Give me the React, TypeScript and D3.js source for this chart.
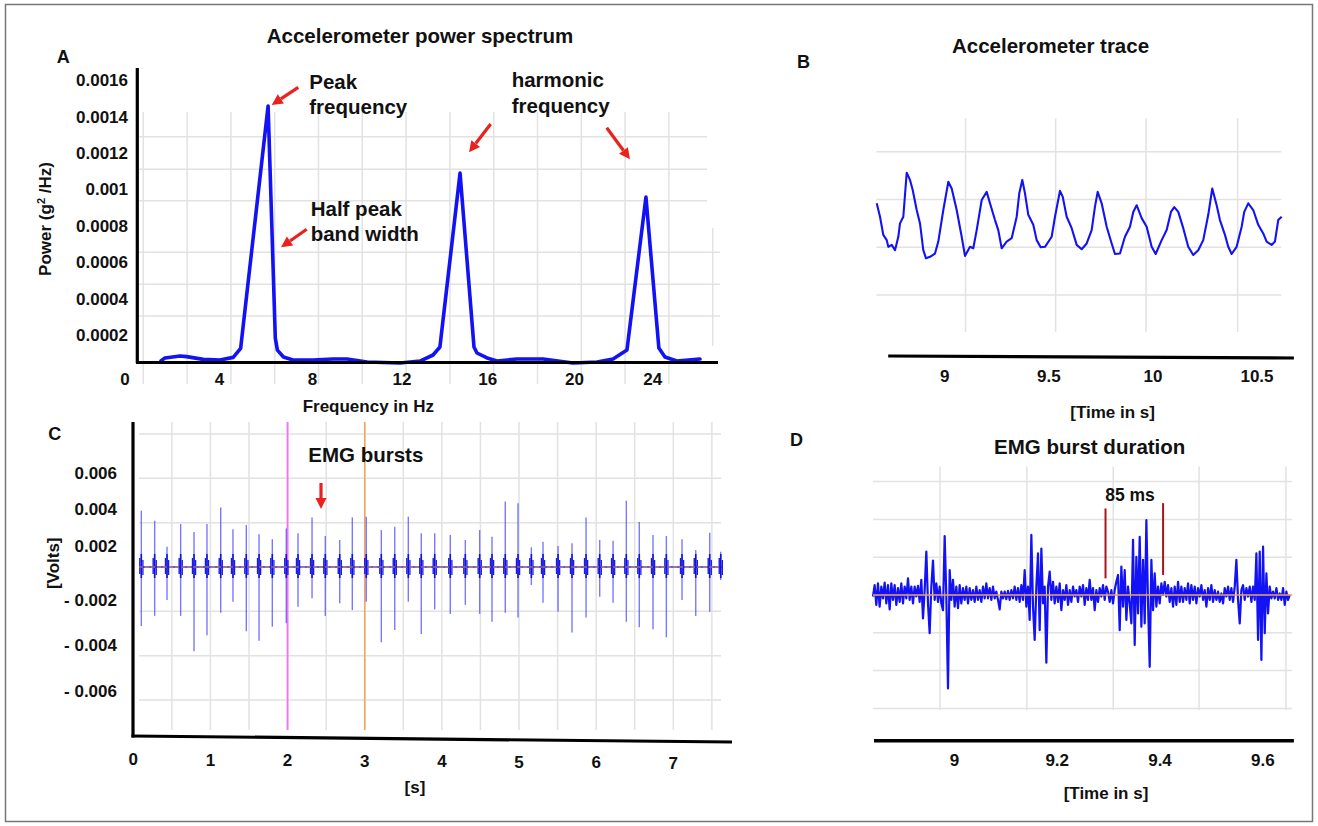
import React from "react";
import * as d3 from "d3";

const W = 1318;
const H = 826;
const FONT = "'Liberation Sans', Arial, Helvetica, sans-serif";
const BLUE = "#1212f5";
const RED = "#e8231e";
const GRID = "#e2e2e2";

// ---------- A: accelerometer power spectrum (Hz, g^2/Hz)
const specFreq = [1.52, 1.69, 2.33, 2.61, 3.31, 4.02, 4.59, 4.91, 6.09, 6.4, 6.49, 6.75, 7.16, 8.02, 8.92, 9.54,
  10.44, 11.91, 12.84, 13.45, 13.77, 14.71, 15.36, 15.5, 15.97, 16.43, 17.35, 18.55, 19.93, 21.15, 21.97, 22.68,
  23.65, 24.31, 24.62, 25.23, 26.41];
const specPower = [0.000057, 0.000074, 0.000085, 0.000081, 0.000066, 0.000063, 0.000077, 0.000127,
  0.001457, 0.000183, 0.000117, 0.000079, 0.000063, 0.000063, 0.000068, 0.000068,
  0.000052, 0.000046, 0.000057, 0.00009, 0.000134, 0.001089, 0.000134, 0.000101,
  0.000074, 0.000057, 0.000068, 0.000068, 0.000046, 0.000052, 0.000068, 0.000117,
  0.000957, 0.000128, 0.000079, 0.000057, 0.000068];
const specFreqTicks = [0, 4, 8, 12, 16, 20, 24];
const specPowerTicks = [0.0002, 0.0004, 0.0006, 0.0008, 0.001, 0.0012, 0.0014, 0.0016];
const specPowerLabels = ["0.0002", "0.0004", "0.0006", "0.0008", "0.001", "0.0012", "0.0014", "0.0016"];

// ---------- B: accelerometer trace (s, mg)
const accTime = [8.6735, 8.6893, 8.7051, 8.7215, 8.7292, 8.7455, 8.7613, 8.7772, 8.7853, 8.8012,
  8.8175, 8.8334, 8.8463, 8.8655, 8.8814, 8.8972, 8.9102, 8.9294, 8.9534, 8.9693,
  8.9933, 9.0173, 9.0336, 9.0576, 9.0816, 9.0975, 9.1215, 9.1373, 9.1537, 9.1777,
  9.2017, 9.2175, 9.2416, 9.2574, 9.2737, 9.2977, 9.3217, 9.3458, 9.3582, 9.3727,
  9.3856, 9.4015, 9.4255, 9.4418, 9.461, 9.4817, 9.5138, 9.5297, 9.5537, 9.5667,
  9.5859, 9.6099, 9.6339, 9.6579, 9.6819, 9.7059, 9.7218, 9.7347, 9.7539, 9.778,
  9.802, 9.8178, 9.8418, 9.8658, 9.8899, 9.9057, 9.922, 9.946, 9.97, 9.9941,
  10.0133, 10.0421, 10.0661, 10.0868, 10.1026, 10.1218, 10.1458, 10.1698, 10.1938, 10.2178,
  10.2418, 10.2659, 10.2851, 10.3062, 10.322, 10.3461, 10.3619, 10.3782, 10.4022, 10.4263,
  10.4387, 10.4579, 10.482, 10.506, 10.53, 10.5463, 10.5703, 10.5862, 10.602, 10.6184];
const accValue = [42, 14, -24, -35, -49, -45, -56, -28, 0, 14,
  106, 91, 70, 28, 0, -56, -73, -70, -63, -38,
  28, 87, 73, 28, -28, -68, -49, -52, -14, 49,
  66, 42, 7, -14, -52, -38, -31, 14, 63, 91,
  63, 18, -3, -35, -50, -49, -28, 14, 68, 56,
  14, -10, -45, -54, -42, -14, 35, 66, 42, -7,
  -42, -64, -63, -28, -7, 24, 38, 11, -7, -49,
  -64, -35, -14, 24, 34, 24, -10, -49, -66, -56,
  -35, 18, 73, 38, 7, -24, -49, -64, -49, -7,
  24, 42, 28, -3, -21, -38, -45, -38, 7, 14];
const accTicks = [9, 9.5, 10, 10.5];
const accGridTime = [9.1, 9.533, 9.967, 10.407];
const accGridValue = [-150, -50, 50, 150];

// ---------- C: EMG bursts (s, V)
const burstTime = [0.104, 0.277, 0.437, 0.614, 0.787, 0.955, 1.133, 1.292, 1.465, 1.63, 1.802, 1.983,
  2.135, 2.317, 2.489, 2.676, 2.839, 3.02, 3.215, 3.389, 3.565, 3.733, 3.907, 4.109, 4.304, 4.49,
  4.65, 4.822, 4.987, 5.16, 5.311, 5.506, 5.687, 5.869, 6.046, 6.219, 6.391, 6.559, 6.737, 6.91,
  7.113, 7.291, 7.472, 7.615];
const burstHigh = [0.00391, 0.00337, 0.00196, 0.0032, 0.00277, 0.0032, 0.00409, 0.00291, 0.00314, 0.00264,
  0.00238, 0.00296, 0.0027, 0.00355, 0.00255, 0.00234, 0.00355, 0.00359, 0.00287, 0.00305,
  0.00359, 0.0027, 0.0027, 0.00261, 0.00234, 0.00287, 0.00251, 0.00441, 0.00432, 0.0019,
  0.00225, 0.00202, 0.00216, 0.00355, 0.00234, 0.0023, 0.00446, 0.0033, 0.00261, 0.00255,
  0.00238, 0.00164, 0.00273, 0.00148];
const burstLow = [-0.00318, -0.00273, -0.00202, -0.00273, -0.00429, -0.00359, -0.00259, -0.0021, -0.00341, -0.00383,
  -0.00321, -0.00306, -0.00232, -0.00193, -0.00273, -0.00217, -0.00247, -0.0021, -0.0039, -0.00335,
  -0.0021, -0.00353, -0.00244, -0.00264, -0.00224, -0.00264, -0.00299, -0.00259, -0.0028, -0.00111,
  -0.00214, -0.00254, -0.00347, -0.0028, -0.00183, -0.00214, -0.00299, -0.00323, -0.00332, -0.00368,
  -0.00202, -0.00273, -0.00254, -0.0008];
const emgTicks = [0, 1, 2, 3, 4, 5, 6, 7];
const voltTicks = [-0.006, -0.004, -0.002, 0.002, 0.004, 0.006];
const voltLabels = ["- 0.006", "- 0.004", "- 0.002", "0.002", "0.004", "0.006"];
const emgGridTime = d3.range(0.5, 7.6, 0.5);

// ---------- D: EMG burst duration (s, µV), sampled trace
const emgDStart = 8.8416;
const emgDStep = 0.0032432;
const emgDValues = [
  -4, 26, -26, 31, -31, 22, -9, 33, -22, 26,
  -38, 31, -13, 26, -26, 18, -18, 31, -22, 22,
  -9, 44, -13, 22, -22, 22, -4, 24, -18, 40,
  -62, 13, 115, -22, -101, 22, 91, -13, 31, -18,
  22, -22, -40, 156, -4, -247, 66, -13, 40, -31,
  22, -35, 26, -22, 18, -13, 22, -22, 18, -13,
  13, -18, 22, -13, 13, -18, 22, -9, 31, -9,
  18, -13, 22, -9, 9, -13, -38, 9, -9, 9,
  -11, 11, -13, 13, -9, 22, -13, 18, -18, 26,
  -13, 66, -31, 22, -66, 159, -31, -119, 22, 110,
  -93, 123, -22, 22, -179, 22, 62, -13, 35, -22,
  22, -18, 31, -40, 13, -13, 26, -26, 13, -18,
  22, -4, 13, -18,
  22, -4, 26, -26, 18, -13, 40, -13, 18, -40,
  13, -18, 18, -4, 26, -13, 22, 9, -18, 13,
  -22, 13, 35, 53, -93, 75, -31, 66, -66, 22,
  -22, -75, 146, -132, 101, -49, 154, -84, 93, -75,
  198, -22, -190, 93, -40, 57, -31, 22, -22, 31,
  0, 35, -4, 26, -18, 18, -31, 22, -26, 35,
  -18, 22, -18, 18, -13, 31, -22, 26, -13, 22,
  -22, 18, -4, 26, -13, 13, -31, 18, -13, 26,
  -18, 13, -13, 9, -18, 4, -22, 18, -4, 22,
  -13, 18, -18, 22, 93, -13, -75, 13, 26, -13,
  18, -4, 22, -18, 22, -13, 110, -119, 115, -172,
  128, -101, 57, -49, 22, -9, 9, -9, 18, -13,
  4, -13, 18, -26, 9, -13, 0];
const durTicks = [9, 9.2, 9.4, 9.6];
const durGridTime = [8.972, 9.141, 9.309, 9.476, 9.645];
const durGridValue = [-300, -200, -100, 0, 100, 200, 300];
const durMarks = [{ t: 9.294, top: 229, bottom: 44 }, { t: 9.406, top: 243, bottom: 53 }];

// ---------- scales (tick labels in the figure are hand placed, so A and C are piecewise)
const xA = d3.scaleLinear().domain(specFreqTicks).range([125, 219.5, 312.5, 402, 487.7, 574.5, 652.8]);
const yA = d3.scaleLinear().domain([0, 0.0016]).range([371.4, 80]);
const xB = d3.scaleLinear().domain([9, 10.5]).range([944.7, 1257]);
const yB = d3.scaleLinear().domain([-150, 150]).range([295.1, 151.7]);
const xC = d3.scaleLinear().domain([0, 7]).range([133.3, 673.3]);
const yC = d3.scaleLinear().domain([-0.006, -0.004, -0.002, 0, 0.002, 0.004, 0.006])
  .range([691.3, 644.5, 599.5, 567, 546.3, 509, 473]);
const yCGrid = d3.scaleLinear().domain([-3, 3]).range([700, 434]); // recorder's own grid
const xD = d3.scaleLinear().domain([9, 9.6]).range([954.4, 1262.8]);
const yD = d3.scaleLinear().domain([-300, 300]).range([708.4, 481.6]);

const specPath = d3.line<number>()
  .x((i) => xA(specFreq[i]))
  .y((i) => yA(specPower[i]))(d3.range(specFreq.length));
const accPath = d3.line<number>()
  .x((i) => xB(accTime[i]))
  .y((i) => yB(accValue[i]))(d3.range(accTime.length));
const durPath = d3.line<number>()
  .x((_, i) => xD(emgDStart + i * emgDStep))
  .y((v) => yD(v))(emgDValues);

const txt = { fontFamily: FONT, fontWeight: 700, fill: "#111" } as const;

const Arrow = ({ x1, y1, x2, y2 }: { x1: number; y1: number; x2: number; y2: number }) => {
  const a = Math.atan2(y2 - y1, x2 - x1);
  const hl = 11, hw = 5.5;
  const bx = x2 - hl * Math.cos(a), by = y2 - hl * Math.sin(a);
  const px = -Math.sin(a) * hw, py = Math.cos(a) * hw;
  return (
    <g>
      <line x1={x1} y1={y1} x2={bx} y2={by} stroke={RED} strokeWidth={3.2} />
      <polygon points={`${x2},${y2} ${bx + px},${by + py} ${bx - px},${by - py}`} fill={RED} />
    </g>
  );
};

const PanelA = () => (
  <g>
    {/* grid */}
    {d3.range(14).map((i) => {
      const x = 143.3 + i * 43.8;
      return i < 13
        ? <line key={i} x1={x} x2={x} y1={112} y2={384} stroke={GRID} strokeWidth={1.5} />
        : <line key={i} x1={x} x2={x} y1={228} y2={346} stroke={GRID} strokeWidth={1.5} />;
    })}
    {[136.7, 169.3, 200.7].map((y) => <line key={y} x1={139} x2={707} y1={y} y2={y} stroke={GRID} strokeWidth={1.5} />)}
    {[252.3, 284.3, 316].map((y) => <line key={y} x1={139} x2={720} y1={y} y2={y} stroke={GRID} strokeWidth={1.5} />)}

    <path d={specPath ?? ""} fill="none" stroke={BLUE} strokeWidth={3.6} strokeLinejoin="round" strokeLinecap="round" />

    {/* axes */}
    <line x1={137.3} x2={137.3} y1={68} y2={363} stroke="#000" strokeWidth={3.2} />
    <line x1={136} x2={718} y1={362.5} y2={362.5} stroke="#000" strokeWidth={3.2} />
    {specPowerTicks.map((v, i) => (
      <text key={v} {...txt} x={128} y={yA(v)} dy="0.36em" fontSize={17} textAnchor="end">{specPowerLabels[i]}</text>
    ))}
    {specFreqTicks.map((v) => (
      <text key={v} {...txt} x={xA(v)} y={379} dy="0.36em" fontSize={17} textAnchor="middle">{v}</text>
    ))}

    <text {...txt} x={56.7} y={62.7} fontSize={18}>A</text>
    <text {...txt} x={420} y={42.5} fontSize={20.5} textAnchor="middle">Accelerometer power spectrum</text>
    <text {...txt} x={368.3} y={411.7} fontSize={17} textAnchor="middle">Frequency in Hz</text>
    <text {...txt} transform="translate(51,219) rotate(-90)" fontSize={17} textAnchor="middle">
      Power (g<tspan dy={-6} fontSize={11}>2</tspan><tspan dy={6}> /Hz)</tspan>
    </text>

    <text {...txt} x={309.3} y={89.3} fontSize={20.5}>Peak</text>
    <text {...txt} x={309.3} y={114} fontSize={20.5}>frequency</text>
    <text {...txt} x={310.7} y={216} fontSize={20.5}>Half peak</text>
    <text {...txt} x={310.7} y={240.7} fontSize={20.5}>band width</text>
    <text {...txt} x={511.7} y={87.3} fontSize={20.5}>harmonic</text>
    <text {...txt} x={511.7} y={112.7} fontSize={20.5}>frequency</text>

    <Arrow x1={298.3} y1={87.3} x2={271.7} y2={105} />
    <Arrow x1={306.7} y1={229.3} x2={281} y2={247.3} />
    <Arrow x1={490.7} y1={124} x2={469} y2={152.3} />
    <Arrow x1={606.7} y1={127.7} x2={630} y2={159.3} />
  </g>
);

const PanelB = () => (
  <g>
    {accGridValue.map((v) => (
      <line key={v} x1={xB(8.672)} x2={xB(10.617)} y1={yB(v)} y2={yB(v)} stroke={GRID} strokeWidth={1.5} />
    ))}
    {accGridTime.map((t) => (
      <line key={t} x1={xB(t)} x2={xB(t)} y1={yB(220)} y2={yB(-227)} stroke={GRID} strokeWidth={1.5} />
    ))}
    <path d={accPath ?? ""} fill="none" stroke={BLUE} strokeWidth={2.1} strokeLinejoin="round" />
    <line x1={888.2} y1={356} x2={1293.9} y2={358} stroke="#000" strokeWidth={3.2} />
    {accTicks.map((v) => (
      <text key={v} {...txt} x={xB(v)} y={381.5} fontSize={17} textAnchor="middle">{v}</text>
    ))}
    <text {...txt} x={797} y={68.3} fontSize={18}>B</text>
    <text {...txt} x={1050.5} y={53.3} fontSize={20.5} textAnchor="middle">Accelerometer trace</text>
    <text {...txt} x={1112.6} y={418} fontSize={17} textAnchor="middle">[Time in s]</text>
  </g>
);

const PanelC = () => (
  <g>
    {emgGridTime.map((t) => (
      <line key={t} x1={xC(t)} x2={xC(t)} y1={422} y2={730} stroke={GRID} strokeWidth={1.5} />
    ))}
    {d3.range(-3, 4).map((k) => (
      <line key={k} x1={139} x2={721} y1={yCGrid(k)} y2={yCGrid(k)} stroke={GRID} strokeWidth={1.5} />
    ))}
    <line x1={xC(2)} x2={xC(2)} y1={422} y2={730} stroke="#ff6cf2" strokeWidth={1.8} />
    <line x1={xC(3)} x2={xC(3)} y1={422} y2={730} stroke="#f2a45c" strokeWidth={1.6} />

    <line x1={xC(0.08)} x2={xC(7.63)} y1={yC(0)} y2={yC(0)} stroke="#3434d0" strokeWidth={1.5} />
    {burstTime.map((t, i) => (
      <g key={i}>
        <line x1={xC(t)} x2={xC(t)} y1={yC(burstHigh[i])} y2={yC(burstLow[i])}
          stroke="#4040ff" strokeOpacity={0.7} strokeWidth={1.4} />
        <line x1={xC(t) - 1.5} x2={xC(t) - 1.5} y1={yC(0) - 9} y2={yC(0) + 7} stroke="#1a1ae4" strokeWidth={1.4} />
        <line x1={xC(t)} x2={xC(t)} y1={yC(0) - 13} y2={yC(0) + 11} stroke="#1010e0" strokeWidth={1.6} />
        <line x1={xC(t) + 1.6} x2={xC(t) + 1.6} y1={yC(0) - 7} y2={yC(0) + 8} stroke="#1a1ae4" strokeWidth={1.3} />
      </g>
    ))}
    <line x1={139} x2={721} y1={yC(0)} y2={yC(0)} stroke="#e38a5a" strokeWidth={1.2} strokeDasharray="4 2" />

    <line x1={133} x2={133} y1={422} y2={737.5} stroke="#000" strokeWidth={3.2} />
    <line x1={131.5} y1={736} x2={732} y2={742} stroke="#000" strokeWidth={3.2} />
    {voltTicks.map((v, i) => (
      <text key={v} {...txt} x={117} y={yC(v)} dy="0.36em" fontSize={17} textAnchor="end">{voltLabels[i]}</text>
    ))}
    {emgTicks.map((v) => (
      <text key={v} {...txt} x={xC(v)} y={759 + (xC(v) - 133) * 0.0065} dy="0.36em" fontSize={17} textAnchor="middle">{v}</text>
    ))}

    <text {...txt} x={48.3} y={440} fontSize={18}>C</text>
    <text {...txt} x={308.3} y={461.7} fontSize={20.5}>EMG bursts</text>
    <Arrow x1={321} y1={483} x2={321} y2={509} />
    <text {...txt} transform="translate(59,563.3) rotate(-90)" fontSize={17} textAnchor="middle">[Volts]</text>
    <text {...txt} x={415} y={793.3} fontSize={17} textAnchor="middle">[s]</text>
  </g>
);

const PanelD = () => (
  <g>
    {durGridValue.map((v) => (
      <line key={v} x1={873} x2={1292.2} y1={yD(v)} y2={yD(v)} stroke={GRID} strokeWidth={1.5} />
    ))}
    {durGridTime.map((t) => (
      <line key={t} x1={xD(t)} x2={xD(t)} y1={yD(340)} y2={yD(-305)} stroke={GRID} strokeWidth={1.5} />
    ))}
    <path d={durPath ?? ""} fill="none" stroke={BLUE} strokeWidth={2.2} strokeLinejoin="round" />
    <line x1={873} x2={1292.2} y1={yD(0)} y2={yD(0)} stroke="#f0a35e" strokeWidth={1.5} />
    {durMarks.map((m) => (
      <line key={m.t} x1={xD(m.t)} x2={xD(m.t)} y1={yD(m.top)} y2={yD(m.bottom)} stroke="#a8161a" strokeWidth={2} />
    ))}
    <text {...txt} x={1105.2} y={501} fontSize={17.5}>85 ms</text>

    <line x1={874} x2={1293.9} y1={740.7} y2={740.7} stroke="#000" strokeWidth={3.4} />
    {durTicks.map((v) => (
      <text key={v} {...txt} x={xD(v)} y={766} fontSize={17} textAnchor="middle">{v}</text>
    ))}
    <text {...txt} x={790} y={446} fontSize={18}>D</text>
    <text {...txt} x={1089.7} y={454} fontSize={20.5} textAnchor="middle">EMG burst duration</text>
    <text {...txt} x={1106} y={799} fontSize={17} textAnchor="middle">[Time in s]</text>
  </g>
);

export default function App() {
  return (
    <svg width={W} height={H} viewBox={`0 0 ${W} ${H}`}
      style={{ position: "absolute", left: 0, top: 0, background: "#fff" }}>
      <rect x={5.5} y={4.5} width={1307} height={817} fill="#fff" stroke="#777" strokeWidth={1.5} />
      <PanelA />
      <PanelB />
      <PanelC />
      <PanelD />
    </svg>
  );
}
